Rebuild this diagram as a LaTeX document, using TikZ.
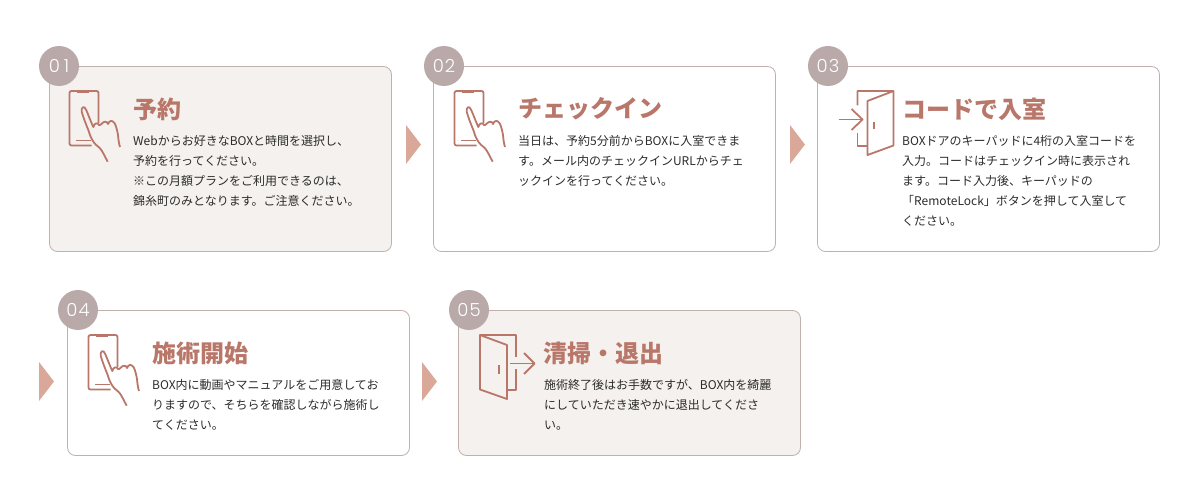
\documentclass[tikz,border=0pt]{standalone}
\usepackage{fontspec}
\setmainfont{Noto Sans CJK JP}
\newfontfamily\numfont[LetterSpace=6]{Poppins Light}
\usepackage{tikz}
\definecolor{rosebrown}{HTML}{B9776A}
\definecolor{cardline}{HTML}{C2B0AD}
\definecolor{cardfill}{HTML}{F4F1EE}
\definecolor{dotfill}{HTML}{B9A9A9}
\definecolor{tipfill}{HTML}{D9A899}
\definecolor{bodytext}{HTML}{2B2B2B}
% phone with pointing hand, top left corner of the phone at the origin
\newcommand{\phonehand}[2]{
  \begin{scope}[shift={(#1,#2)},icon]
    \draw[rounded corners=2pt] (22,54.5) -- (0,54.5) -- (0,0) -- (29,0) -- (29,32);
    \draw[line width=2.4pt] (7,0.5) -- (19,0.5);
    \draw (6.5,49.5) -- (21,49.5);
    \draw (38.2,70.7) .. controls (35,65) and (33,60) .. (30.5,57.3)
      .. controls (27,54) and (25,53) .. (23.8,50.7)
      .. controls (21,46) and (20,43) .. (18.8,39)
      .. controls (16,32) and (14,27) .. (12.2,20.7)
      .. controls (11.5,16) and (15,14) .. (16.7,19)
      .. controls (19,24) and (21,30) .. (23.8,36)
      .. controls (25,32) and (28,31) .. (29.5,34)
      .. controls (31,35) and (33,31) .. (35.2,30.7)
      .. controls (37,30) and (38,32) .. (38.5,33)
      .. controls (40,29) and (43,29) .. (45.2,32.3)
      .. controls (47,36) and (48,41) .. (48.5,44)
      .. controls (48.8,48) and (49.5,53) .. (50.5,56);
  \end{scope}
}
% door with the arrow going in
\newcommand{\doorin}[2]{
  \begin{scope}[shift={(#1,#2)},icon]
    \draw (0,14.5) -- (0,0) -- (36,0) -- (36,54.5) -- (10,64) -- (10,10) -- (36,0);
    \draw (0,42) -- (0,55) -- (10,55);
    \draw (16.5,31) -- (16.5,38.5);
    \draw (-19,28.5) -- (5,28.5);
    \draw (-6,18) -- (5,28.5) -- (-6,39);
  \end{scope}
}
% door with the arrow going out
\newcommand{\doorout}[2]{
  \begin{scope}[shift={(#1,#2)},icon]
    \draw (0,0) -- (36,0) -- (36,22);
    \draw (36,34) -- (36,55) -- (27,55);
    \draw (0,0) -- (27,10) -- (27,64) -- (0,54.5) -- cycle;
    \draw (19,30) -- (19,38.5);
    \draw (30,28.5) -- (54.5,28.5);
    \draw (44,18) -- (54.5,28.5) -- (44,39);
  \end{scope}
}
\newcommand{\steptip}[2]{
  \fill[tipfill] (#1,#2) -- (#1+15,#2+19.5) -- (#1,#2+39) -- cycle;
}

\begin{document}
\begin{tikzpicture}[
    x=1pt,y=-1pt,
    inner sep=0pt,
    icon/.style={draw=rosebrown,line width=1.8pt,line join=round},
    card/.style={draw=cardline,line width=0.8pt,rounded corners=8pt,minimum width=342pt},
    tall/.style={card,minimum height=185pt},
    low/.style={card,minimum height=145pt},
    numdot/.style={circle,fill=dotfill,minimum size=40pt,text=white,font=\numfont\fontsize{18}{18}\selectfont},
    heading/.style={anchor=west,text=rosebrown,font=\bfseries\fontsize{24}{24}\selectfont},
    body/.style={anchor=north west,align=left,text=bodytext,font=\fontsize{12}{20}\selectfont}
  ]
  \useasboundingbox (0,0) rectangle (1200,500);
  \node (card1) [tall,fill=cardfill] at (220.5,159) {};
  \node (card2) [tall] at (604.5,159) {};
  \node (card3) [tall] at (988.5,159) {};
  \node (card4) [low] at (238.5,383) {};
  \node (card5) [low,fill=cardfill] at (629.5,383) {};
  \node (num1) [numdot] at (59,66) {0\hspace{4pt}1};
  \node (num2) [numdot] at (444,66) {02};
  \node (num3) [numdot] at (828,66) {03};
  \node (num4) [numdot] at (78,310) {04};
  \node (num5) [numdot] at (469,310) {05};
  \steptip{406}{125}
  \steptip{790}{125}
  \steptip{39}{362}
  \steptip{422}{362}
  \phonehand{69.5}{91}
  \phonehand{454.5}{91}
  \doorin{857.5}{91}
  \phonehand{88.5}{335}
  \doorout{480}{335}
  \node (title1) [heading] at (133,109) {予約};
  \node (title2) [heading] at (518,109) {チェックイン};
  \node (title3) [heading] at (902.5,109) {コードで入室};
  \node (title4) [heading] at (152,353) {施術開始};
  \node (title5) [heading] at (543.5,353) {清掃・退出};
  \node (text1) [body] at (133,135) {Webからお好きなBOXと時間を選択し、\\予約を行ってください。\\※この月額プランをご利用できるのは、\\錦糸町のみとなります。ご注意ください。};
  \node (text2) [body] at (518,135) {当日は、予約5分前からBOXに入室できま\\す。メール内のチェックインURLからチェ\\ックインを行ってください。};
  \node (text3) [body] at (902,135) {BOXドアのキーパッドに4桁の入室コードを\\入力。コードはチェックイン時に表示され\\ます。コード入力後、キーパッドの\\「RemoteLock」ボタンを押して入室して\\ください。};
  \node (text4) [body] at (152,379) {BOX内に動画やマニュアルをご用意してお\\りますので、そちらを確認しながら施術し\\てください。};
  \node (text5) [body] at (544,379) {施術終了後はお手数ですが、BOX内を綺麗\\にしていただき速やかに退出してくださ\\い。};
\end{tikzpicture}
\end{document}
